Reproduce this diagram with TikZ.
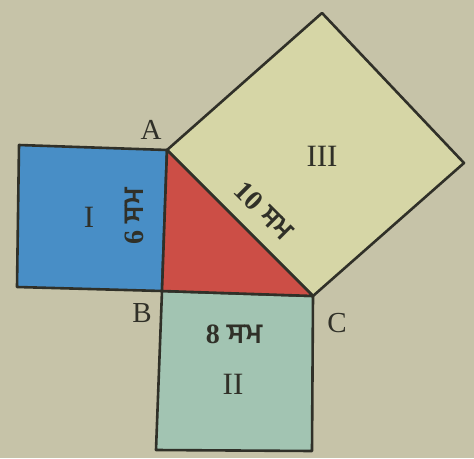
\documentclass[tikz,border=0pt]{standalone}
\usepackage{fontspec}
\setmainfont{Liberation Serif}
\newfontfamily\gurfont[Script=Gurmukhi]{Hind Jalandhar}
\definecolor{bgc}{RGB}{198,195,168}
\definecolor{bluec}{RGB}{72,142,198}
\definecolor{redc}{RGB}{204,78,70}
\definecolor{greenc}{RGB}{162,196,178}
\definecolor{yellowc}{RGB}{214,214,166}
\definecolor{edgec}{RGB}{48,48,40}
\tikzset{
  sq/.style={draw=edgec, line width=2.6pt, line join=round},
  lbl/.style={font=\fontsize{29}{33}\selectfont, text=edgec, inner sep=0pt},
  num/.style={font=\fontsize{31}{35}\selectfont, text=edgec, inner sep=0pt},
  meas/.style={font=\fontsize{28}{32}\selectfont\bfseries, text=edgec, inner sep=0pt}
}
\begin{document}
\begin{tikzpicture}[x=1pt,y=-1pt]
\useasboundingbox (0,0) rectangle (474,458);
\fill[bgc] (0,0) rectangle (474,458);
% vertices
\coordinate (A) at (167,150);
\coordinate (B) at (162,291);
\coordinate (C) at (313,296);
\coordinate (I1) at (19,145);
\coordinate (I4) at (17,287);
\coordinate (II3) at (312,451);
\coordinate (II4) at (156,450);
\coordinate (III2) at (322,13);
\coordinate (III3) at (464,163);
% squares
\filldraw[sq, fill=bluec] (I1) -- (A) -- (B) -- (I4) -- cycle;
\filldraw[sq, fill=greenc] (B) -- (C) -- (II3) -- (II4) -- cycle;
\filldraw[sq, fill=yellowc] (A) -- (III2) -- (III3) -- (C) -- cycle;
\filldraw[sq, fill=redc] (A) -- (B) -- (C) -- cycle;
% labels
\node[lbl] (la) at (151,130) {A};
\node[lbl] (lb) at (142,313) {B};
\node[lbl] (lc) at (337,323) {C};
\node[num] (n1) at (89,217) {I};
\node[num] (n2) at (233,384) {II};
\node[num] (n3) at (322,156) {III};
\node[meas, rotate=90] (m6) at (134,216) {6 {\gurfont ਸਮ}};
\node[meas] (m8) at (234,334) {8 {\gurfont ਸਮ}};
\node[meas, rotate=-45] (m10) at (264,211) {10 {\gurfont ਸਮ}};
\end{tikzpicture}
\end{document}
